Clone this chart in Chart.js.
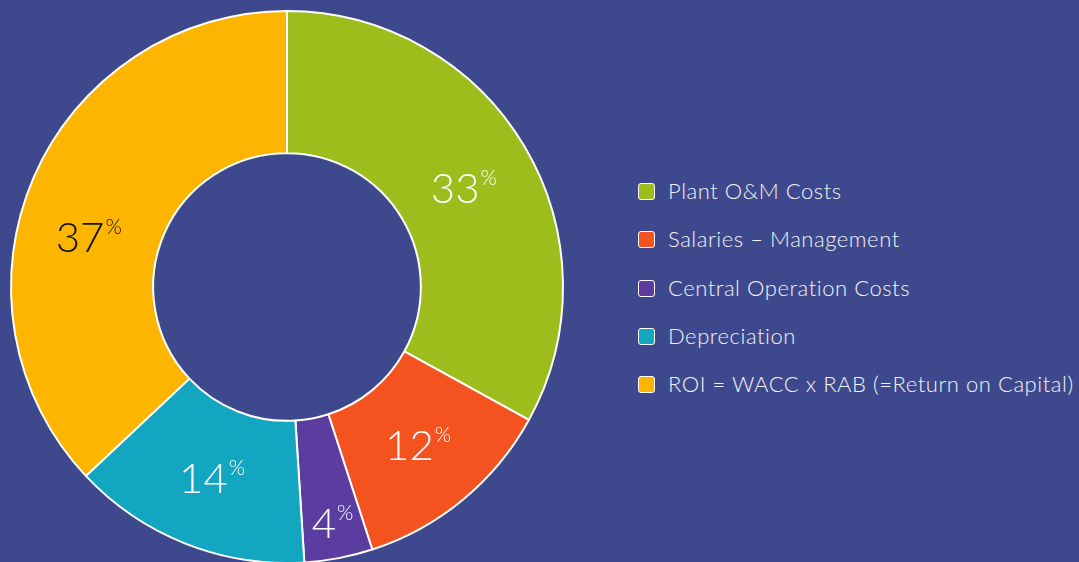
<!DOCTYPE html>
<html>
<head>
<meta charset="utf-8">
<script src="https://cdn.jsdelivr.net/npm/chart.js@4"></script>
<style>
  html, body { margin: 0; padding: 0; background: #3e498d; overflow: hidden; }
  body { width: 1079px; height: 562px; position: relative; font-family: Lato, "Noto Sans", sans-serif; }
  .chartBox { position: absolute; left: 0; top: 0; width: 574px; height: 574px; }
  .legend { position: absolute; left: 638px; top: 181px; margin: 0; padding: 0; list-style: none; }
  .legend li { height: 48.3px; display: flex; align-items: flex-start; color: #f2f2f2; font-size: 22px; letter-spacing: 0.55px; font-weight: 300; white-space: nowrap; }
  .legend .box { width: 15px; height: 15px; border: 1.5px solid #fff; border-radius: 3px; margin-right: 13px; margin-top: 2px; }
  .legend span.txt { line-height: 20px; }
</style>
</head>
<body>
<div class="chartBox"><canvas id="chart"></canvas></div>
<ul class="legend" id="legend"></ul>
<script>
const categories = [
  "Plant O&M Costs",
  "Salaries – Management",
  "Central Operation Costs",
  "Depreciation",
  "ROI = WACC x RAB (=Return on Capital)",
];
const shares = [33, 12, 4, 14, 37];
const colors = ["#9dbd1d", "#f4521f", "#5b3d9f", "#13a6c0", "#fdb500"];
const labelColors = ["#ffffff", "#ffffff", "#ffffff", "#ffffff", "#111111"];
// where each label sits inside its slice (radial and angular fraction)
const labelRadius = [0.5, 0.5, 0.75, 0.5, 0.5];
const labelAngle = [0.5, 0.5, 0.5, 0.5, 0.43];

const legend = document.getElementById("legend");
categories.forEach((name, i) => {
  const li = document.createElement("li");
  li.innerHTML = `<div class="box" style="background:${colors[i]}"></div><span class="txt">${name}</span>`;
  legend.appendChild(li);
});

const sliceLabels = {
  id: "sliceLabels",
  afterDatasetsDraw(chart) {
    const ctx = chart.ctx;
    const meta = chart.getDatasetMeta(0);
    meta.data.forEach((arc, i) => {
      const p = arc.getProps(["x", "y", "startAngle", "endAngle", "innerRadius", "outerRadius"], true);
      const mid = p.startAngle + (p.endAngle - p.startAngle) * labelAngle[i];
      const r = p.innerRadius + (p.outerRadius - p.innerRadius) * labelRadius[i];
      const cx = p.x + Math.cos(mid) * r;
      const cy = p.y + Math.sin(mid) * r + (i === 0 ? 5 : 0);
      const num = String(shares[i]);
      ctx.save();
      ctx.fillStyle = labelColors[i];
      ctx.font = "300 42px Lato, 'Noto Sans', sans-serif";
      const wNum = ctx.measureText(num).width;
      ctx.font = "300 21px Lato, 'Noto Sans', sans-serif";
      const wPct = ctx.measureText("%").width;
      const x0 = cx - (wNum + wPct) / 2;
      ctx.textBaseline = "alphabetic";
      ctx.font = "300 42px Lato, 'Noto Sans', sans-serif";
      ctx.fillText(num, x0, cy + 15);
      ctx.font = "300 21px Lato, 'Noto Sans', sans-serif";
      ctx.fillText("%", x0 + wNum + 1, cy - 3);
      ctx.restore();
    });
  },
};

new Chart(document.getElementById("chart"), {
  type: "doughnut",
  data: {
    labels: categories,
    datasets: [{
      data: shares,
      backgroundColor: colors,
      borderColor: "#ffffff",
      borderWidth: 2,
    }],
  },
  options: {
    responsive: true,
    maintainAspectRatio: false,
    animation: false,
    cutout: "48.5%",
    layout: { padding: 10 },
    plugins: {
      legend: { display: false },
      tooltip: { enabled: false },
    },
  },
  plugins: [sliceLabels],
});
</script>
</body>
</html>
